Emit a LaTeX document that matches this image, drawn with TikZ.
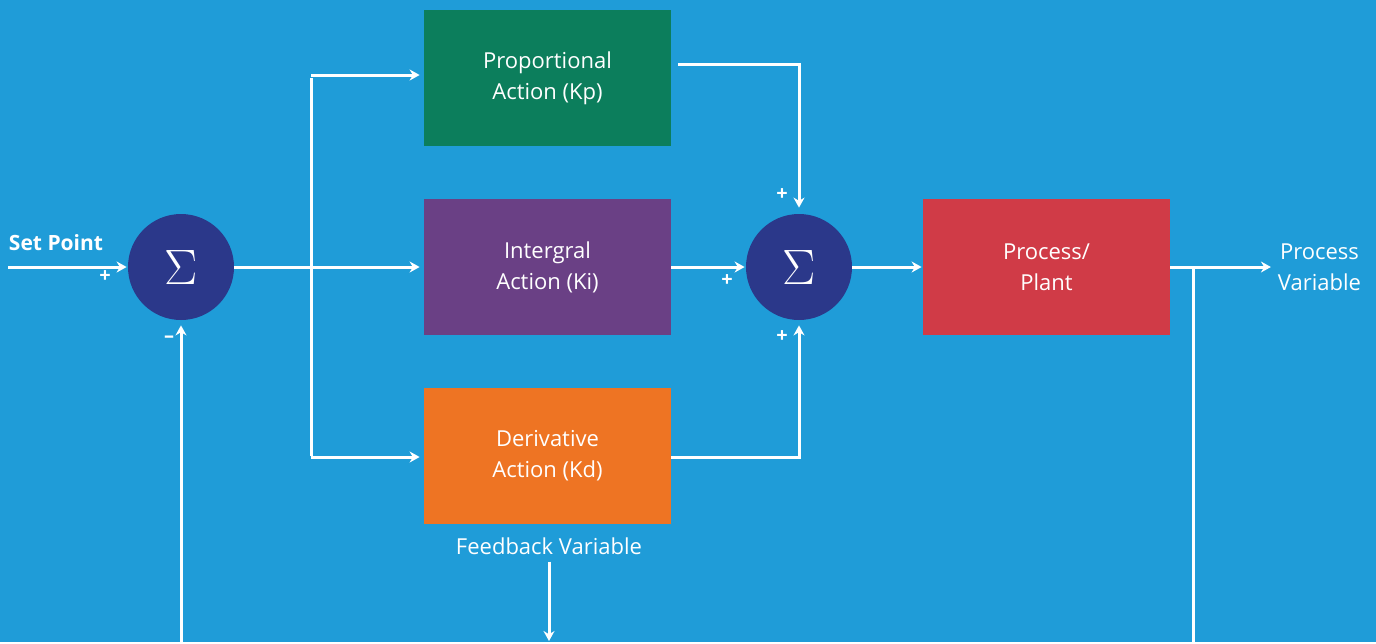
\documentclass[tikz,border=0pt]{standalone}
\usepackage{amsmath}
\usepackage{fontspec}
\setmainfont{Open Sans}
\usetikzlibrary{positioning,arrows.meta}
\definecolor{bgblue}{HTML}{1F9CD8}
\definecolor{sumblue}{HTML}{2B388A}
\definecolor{propgreen}{HTML}{0C7E5C}
\definecolor{integpurple}{HTML}{6A4085}
\definecolor{derivorange}{HTML}{EE7423}
\definecolor{plantred}{HTML}{D03B47}

\begin{document}
\begin{tikzpicture}[
  x=0.5pt,y=-0.5pt,
  every node/.style={text=white,align=center,font=\fontsize{11}{15.5}\selectfont},
  block/.style={rectangle,minimum width=123.5pt,minimum height=68pt,inner sep=0pt},
  sum/.style={circle,fill=sumblue,minimum size=53pt,inner sep=0pt,font=\fontsize{26}{26}\selectfont},
  sign/.style={font=\fontsize{10}{10}\selectfont\bfseries,inner sep=0pt},
  wire/.style={draw=white,line width=1.5pt},
  arr/.style={wire,-{Stealth[length=5pt,width=5.5pt]}}]

  \fill[bgblue] (0,0) rectangle (1376,642);

  \node[sum] (sumA) at (181,267) {$\Sigma$};
  \node[sum] (sumB) at (799,267) {$\Sigma$};
  \node[block,fill=propgreen] (prop) at (547.5,78) {Proportional\\Action (Kp)};
  \node[block,fill=integpurple] (integ) at (547.5,267) {Intergral\\Action (Ki)};
  \node[block,fill=derivorange] (deriv) at (547.5,455.5) {Derivative\\Action (Kd)};
  \node[block,fill=plantred] (plant) at (1046.5,267) {Process/\\Plant};

  \node[font=\fontsize{10.5}{12}\selectfont\bfseries] (sp) at (56,243) {Set Point};
  \node (pv) at (1319.5,267) {Process\\Variable};
  \node (fv) at (549,546) {Feedback Variable};

  \coordinate (spIn) at (8,267);
  \coordinate (split) at (311,267);
  \coordinate (tap) at (1193,267);
  \coordinate (tapEnd) at (1193,642);
  \coordinate (fbIn) at (181,642);
  \coordinate (fvEnd) at (549,641);

  % forward path
  \draw[arr,shorten >=0.5pt] (spIn) -- (sumA.west);
  \draw[arr,shorten >=2pt] (sumA.east) -- (integ.west);
  \draw[wire] (split |- prop.west) -- (split |- deriv.west);
  \draw[arr,shorten >=2pt] ([yshift=1.5pt]split |- prop.west) -- ([yshift=1.5pt]prop.west);
  \draw[arr,shorten >=2pt] ([yshift=-0.75pt]split |- deriv.west) -- ([yshift=-0.75pt]deriv.west);

  \draw[arr,shorten >=3pt] ([xshift=3.5pt,yshift=7pt]prop.east) -| (sumB.north);
  \draw[arr,shorten >=0.5pt] (integ.east) -- (sumB.west);
  \draw[arr,shorten >=2.5pt] ([yshift=-0.75pt]deriv.east) -| (sumB.south);
  \draw[arr,shorten >=0.5pt] (sumB.east) -- (plant.west);
  \draw[arr] (plant.east) -- (pv.west);

  % feedback
  \draw[wire] (tap) -- (tapEnd);
  \draw[arr,shorten >=2.5pt] (fbIn) -- (sumA.south);
  \draw[arr] (fv.south) -- (fvEnd);

  % signs
  \node[sign] (signA) at (105,277) {+};
  \node[sign] (signB) at (169,339) {--};
  \node[sign] (signC) at (782,195) {+};
  \node[sign] (signD) at (727,281) {+};
  \node[sign] (signE) at (782,337) {+};
\end{tikzpicture}
\end{document}
